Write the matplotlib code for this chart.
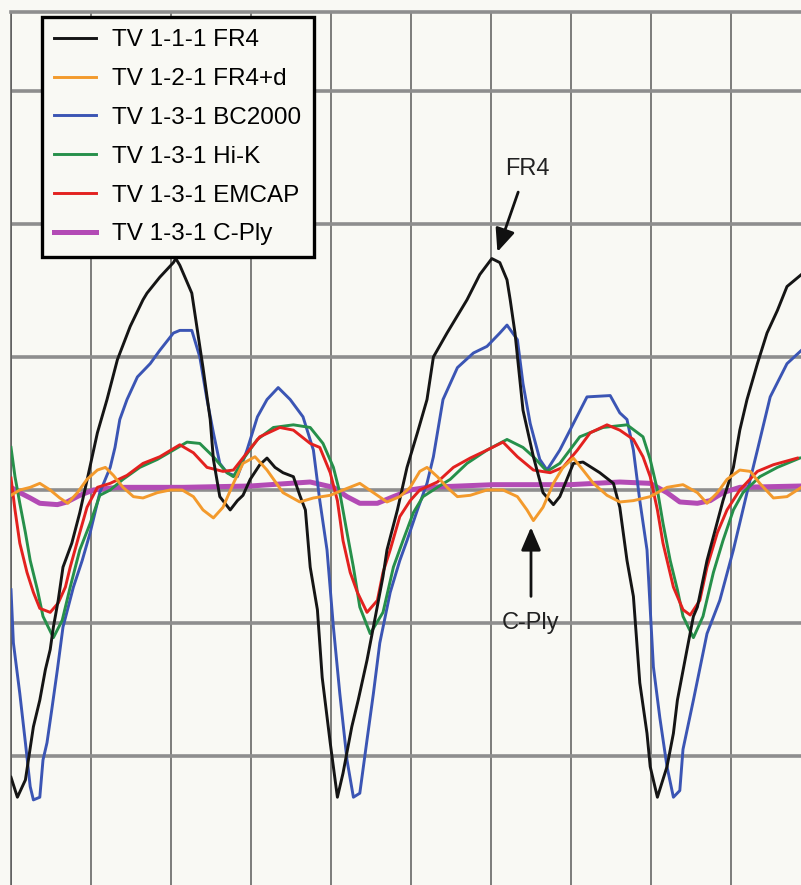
# TDR-style crosstalk traces for the six test vehicles
# grid is in scope divisions (x: time div, y: amplitude div, 0 = baseline)
import matplotlib
matplotlib.use("Agg")
import matplotlib.pyplot as plt

plt.rcParams['font.family'] = ['Liberation Sans', 'DejaVu Sans']

# ---- traces, read per division ----
fr4_t = [0.00, 0.08, 0.18, 0.28, 0.36, 0.43, 0.49, 0.53, 0.59, 0.65, 0.76, 0.86, 0.96, 1.08,
         1.20, 1.33, 1.49, 1.65, 1.70, 1.86, 2.03, 2.06, 2.11, 2.26, 2.33, 2.40, 2.49, 2.53,
         2.61, 2.74, 2.83, 2.90, 2.99, 3.11, 3.20, 3.30, 3.40, 3.53, 3.61, 3.68, 3.74, 3.83,
         3.89, 3.99, 4.08, 4.15, 4.26, 4.34, 4.45, 4.53, 4.65, 4.70, 4.83, 4.95, 5.08, 5.20,
         5.28, 5.45, 5.70, 5.86, 6.01, 6.11, 6.20, 6.24, 6.30, 6.40, 6.53, 6.65, 6.78, 6.86,
         7.03, 7.15, 7.36, 7.53, 7.61, 7.70, 7.78, 7.86, 7.95, 7.99, 8.08, 8.20, 8.28, 8.33,
         8.45, 8.53, 8.58, 8.70, 8.90, 9.03, 9.11, 9.20, 9.33, 9.45, 9.58, 9.70, 9.88]
fr4_v = [-2.16, -2.31, -2.18, -1.78, -1.58, -1.35, -1.20, -1.03, -0.83, -0.58, -0.40, -0.17,
         0.10, 0.43, 0.68, 0.98, 1.23, 1.43, 1.48, 1.60, 1.71, 1.74, 1.69, 1.48, 1.20, 0.92,
         0.53, 0.23, -0.05, -0.15, -0.08, -0.04, 0.08, 0.19, 0.24, 0.17, 0.13, 0.10, -0.04,
         -0.15, -0.58, -0.90, -1.41, -1.90, -2.31, -2.13, -1.78, -1.58, -1.28, -1.03, -0.65,
         -0.45, -0.15, 0.17, 0.43, 0.68, 1.00, 1.18, 1.43, 1.62, 1.74, 1.71, 1.58, 1.43, 1.18,
         0.60, 0.25, -0.02, -0.11, -0.05, 0.20, 0.21, 0.13, 0.05, -0.13, -0.53, -0.80, -1.45,
         -1.83, -2.08, -2.31, -2.08, -1.83, -1.58, -1.20, -0.95, -0.88, -0.53, -0.08, 0.17,
         0.45, 0.68, 0.95, 1.18, 1.35, 1.53, 1.62]

fr4d_t = [0.00, 0.11, 0.24, 0.36, 0.49, 0.61, 0.71, 0.83, 0.95, 1.08, 1.18, 1.28, 1.40, 1.53,
          1.65, 1.83, 1.99, 2.14, 2.28, 2.40, 2.53, 2.65, 2.78, 2.90, 3.05, 3.20, 3.40, 3.61,
          3.78, 3.99, 4.15, 4.36, 4.53, 4.70, 4.86, 4.99, 5.11, 5.20, 5.33, 5.45, 5.58, 5.74,
          5.95, 6.15, 6.33, 6.45, 6.53, 6.65, 6.78, 6.90, 7.03, 7.15, 7.28, 7.45, 7.61, 7.78,
          7.99, 8.20, 8.40, 8.58, 8.70, 8.83, 8.95, 9.11, 9.24, 9.36, 9.53, 9.70, 9.88]
fr4d_v = [-0.04, 0.00, 0.02, 0.05, 0.00, -0.06, -0.10, -0.02, 0.08, 0.15, 0.17, 0.11, 0.02,
          -0.05, -0.06, -0.02, 0.00, 0.00, -0.05, -0.15, -0.21, -0.13, 0.05, 0.20, 0.25, 0.15,
          -0.02, -0.09, -0.06, -0.04, 0.00, 0.05, -0.02, -0.09, -0.05, 0.02, 0.14, 0.17, 0.10,
          0.02, -0.05, -0.04, 0.00, 0.00, -0.05, -0.15, -0.23, -0.13, 0.05, 0.17, 0.24, 0.15,
          0.05, -0.04, -0.09, -0.08, -0.05, 0.02, 0.04, -0.02, -0.10, -0.02, 0.08, 0.15, 0.14,
          0.05, -0.06, -0.05, 0.02]

bc2000_t = [0.00, 0.03, 0.11, 0.18, 0.24, 0.28, 0.36, 0.40, 0.45, 0.51, 0.58, 0.65, 0.78, 0.89,
            0.99, 1.11, 1.24, 1.30, 1.36, 1.45, 1.58, 1.74, 1.86, 2.03, 2.11, 2.26, 2.36, 2.45,
            2.53, 2.61, 2.70, 2.83, 2.95, 3.08, 3.20, 3.34, 3.49, 3.65, 3.78, 3.86, 3.95, 4.03,
            4.11, 4.20, 4.28, 4.36, 4.45, 4.53, 4.61, 4.74, 4.86, 4.95, 5.08, 5.20, 5.28, 5.40,
            5.58, 5.78, 5.95, 6.11, 6.20, 6.33, 6.40, 6.49, 6.61, 6.70, 6.86, 7.03, 7.20, 7.49,
            7.61, 7.70, 7.78, 7.86, 7.95, 8.03, 8.11, 8.20, 8.28, 8.36, 8.40, 8.53, 8.70, 8.86,
            9.03, 9.20, 9.33, 9.49, 9.70, 9.88]
bc2000_v = [-0.75, -1.15, -1.53, -1.90, -2.23, -2.33, -2.31, -2.03, -1.90, -1.65, -1.35, -1.03,
            -0.73, -0.53, -0.32, -0.02, 0.17, 0.32, 0.53, 0.68, 0.85, 0.95, 1.05, 1.18, 1.20,
            1.20, 1.00, 0.68, 0.43, 0.20, 0.13, 0.10, 0.30, 0.55, 0.68, 0.77, 0.68, 0.55, 0.30,
            -0.08, -0.45, -1.03, -1.53, -2.03, -2.31, -2.28, -1.88, -1.53, -1.15, -0.77, -0.53,
            -0.38, -0.15, 0.05, 0.25, 0.68, 0.92, 1.03, 1.08, 1.18, 1.24, 1.13, 0.80, 0.50, 0.23,
            0.15, 0.30, 0.50, 0.70, 0.71, 0.58, 0.53, 0.30, -0.08, -0.45, -1.33, -1.71, -2.08,
            -2.31, -2.26, -1.95, -1.58, -1.08, -0.83, -0.45, -0.02, 0.30, 0.70, 0.95, 1.05]

hik_t = [0.00, 0.05, 0.11, 0.18, 0.24, 0.33, 0.40, 0.53, 0.64, 0.74, 0.86, 0.99, 1.11, 1.24,
         1.40, 1.61, 1.83, 2.03, 2.20, 2.36, 2.53, 2.70, 2.78, 2.90, 3.08, 3.28, 3.53, 3.74,
         3.90, 4.03, 4.11, 4.20, 4.28, 4.36, 4.49, 4.65, 4.78, 4.90, 5.03, 5.15, 5.33, 5.49,
         5.70, 5.95, 6.20, 6.40, 6.53, 6.70, 6.86, 7.11, 7.40, 7.70, 7.90, 7.99, 8.08, 8.15,
         8.24, 8.33, 8.40, 8.53, 8.65, 8.78, 8.90, 9.03, 9.15, 9.36, 9.58, 9.86]
hik_v = [0.32, 0.10, -0.10, -0.32, -0.53, -0.75, -0.95, -1.11, -0.98, -0.73, -0.45, -0.25,
         -0.04, 0.00, 0.08, 0.17, 0.23, 0.30, 0.36, 0.35, 0.25, 0.13, 0.10, 0.23, 0.38, 0.47,
         0.49, 0.47, 0.35, 0.17, -0.02, -0.32, -0.58, -0.88, -1.08, -0.92, -0.58, -0.38, -0.17,
         -0.05, 0.02, 0.08, 0.20, 0.30, 0.38, 0.32, 0.25, 0.14, 0.20, 0.40, 0.47, 0.49, 0.40,
         0.23, 0.00, -0.25, -0.53, -0.75, -0.95, -1.11, -0.95, -0.62, -0.38, -0.15, -0.02,
         0.10, 0.17, 0.24]

emcap_t = [0.00, 0.05, 0.11, 0.20, 0.28, 0.36, 0.49, 0.59, 0.68, 0.74, 0.86, 0.95, 1.08, 1.24,
           1.45, 1.65, 1.86, 2.11, 2.28, 2.45, 2.65, 2.78, 2.95, 3.11, 3.36, 3.53, 3.74, 3.86,
           3.99, 4.08, 4.15, 4.24, 4.33, 4.45, 4.58, 4.65, 4.74, 4.86, 4.99, 5.11, 5.33, 5.53,
           5.74, 5.95, 6.15, 6.33, 6.53, 6.74, 6.90, 7.08, 7.24, 7.45, 7.61, 7.78, 7.90, 7.99,
           8.08, 8.15, 8.28, 8.40, 8.49, 8.61, 8.70, 8.83, 8.95, 9.11, 9.33, 9.53, 9.83]
emcap_v = [0.09, -0.15, -0.40, -0.62, -0.77, -0.89, -0.92, -0.85, -0.73, -0.58, -0.32, -0.13,
           0.02, 0.05, 0.11, 0.20, 0.25, 0.34, 0.28, 0.17, 0.14, 0.15, 0.28, 0.40, 0.47, 0.45,
           0.35, 0.32, 0.13, -0.08, -0.38, -0.62, -0.77, -0.92, -0.83, -0.62, -0.45, -0.20,
           -0.08, 0.00, 0.06, 0.17, 0.24, 0.30, 0.36, 0.25, 0.15, 0.13, 0.17, 0.30, 0.43, 0.49,
           0.45, 0.38, 0.25, 0.10, -0.15, -0.40, -0.73, -0.90, -0.94, -0.83, -0.58, -0.32, -0.15,
           0.00, 0.14, 0.19, 0.24]

cply_t = [0.00, 0.11, 0.24, 0.36, 0.58, 0.70, 0.86, 1.03, 1.33, 2.15, 2.99, 3.74, 4.03, 4.20,
          4.36, 4.58, 4.78, 4.99, 5.20, 6.03, 6.99, 7.61, 7.99, 8.20, 8.36, 8.58, 8.74, 8.90,
          9.11, 9.88]
cply_v = [0.02, -0.02, -0.06, -0.10, -0.11, -0.09, -0.04, 0.00, 0.02, 0.02, 0.03, 0.06, 0.02,
          -0.05, -0.10, -0.10, -0.05, 0.00, 0.02, 0.04, 0.04, 0.06, 0.05, -0.02, -0.09, -0.10,
          -0.08, -0.02, 0.02, 0.03]

labels = ['TV 1-1-1 FR4', 'TV 1-2-1 FR4+d', 'TV 1-3-1 BC2000',
          'TV 1-3-1 Hi-K', 'TV 1-3-1 EMCAP', 'TV 1-3-1 C-Ply']
colors = ['#151515', '#f39a2c', '#3b55b4', '#26904a', '#e3211f', '#b34bb5']

bg = '#f9f9f4'
fig = plt.figure(figsize=(8.01, 8.85), dpi=100, facecolor=bg)
ax = fig.add_axes([11 / 801, 0, 790 / 801, 873 / 885], facecolor=bg)

ax.set_xlim(0, 9.875)
ax.set_ylim(-2.97, 3.594)
ax.set_xticks(range(0, 10))
ax.set_yticks(range(-2, 4))
ax.tick_params(length=0, labelbottom=False, labelleft=False)
ax.xaxis.grid(True, color='#5a5a5a', lw=1.1, zorder=0)
ax.yaxis.grid(True, color='#8e8e8e', lw=2.6, zorder=0)
ax.set_axisbelow(True)
for s in ('bottom', 'right'):
    ax.spines[s].set_visible(False)
ax.spines['top'].set_color('#8e8e8e')
ax.spines['top'].set_linewidth(2.6)
ax.spines['left'].set_color('#5a5a5a')
ax.spines['left'].set_linewidth(1.1)

lw = 2.1
h_fr4, = ax.plot(fr4_t, fr4_v, color=colors[0], lw=lw, zorder=6)
h_fr4d, = ax.plot(fr4d_t, fr4d_v, color=colors[1], lw=lw, zorder=7)
h_bc, = ax.plot(bc2000_t, bc2000_v, color=colors[2], lw=lw, zorder=3)
h_hik, = ax.plot(hik_t, hik_v, color=colors[3], lw=lw, zorder=4)
h_em, = ax.plot(emcap_t, emcap_v, color=colors[4], lw=lw, zorder=5)
h_cp, = ax.plot(cply_t, cply_v, color=colors[5], lw=3.6, zorder=2)

leg = ax.legend([h_fr4, h_fr4d, h_bc, h_hik, h_em, h_cp], labels,
                loc='upper left', bbox_to_anchor=(0.039, 0.994), borderaxespad=0,
                fontsize=17.5, handlelength=1.75, handletextpad=0.65,
                borderpad=0.5, labelspacing=0.69, fancybox=False,
                framealpha=1, facecolor=bg, edgecolor='black')
leg.get_frame().set_linewidth(2.4)
leg.set_zorder(10)

# callouts
ax.text(6.46, 2.41, 'FR4', fontsize=17, ha='center', va='center', color='#222222', zorder=8)
ax.annotate('', xy=(6.08, 1.79), xytext=(6.34, 2.24),
            arrowprops=dict(arrowstyle='-|>,head_length=0.7,head_width=0.3',
                            color='#111111', lw=2, mutation_scale=20,
                            shrinkA=0, shrinkB=0), zorder=8)
ax.text(6.49, -1.0, 'C-Ply', fontsize=17, ha='center', va='center', color='#222222', zorder=8)
ax.annotate('', xy=(6.5, -0.28), xytext=(6.5, -0.80),
            arrowprops=dict(arrowstyle='-|>,head_length=0.7,head_width=0.3',
                            color='#111111', lw=2, mutation_scale=20,
                            shrinkA=0, shrinkB=0), zorder=8)

fig.savefig('out.png', dpi=100, facecolor=bg)
